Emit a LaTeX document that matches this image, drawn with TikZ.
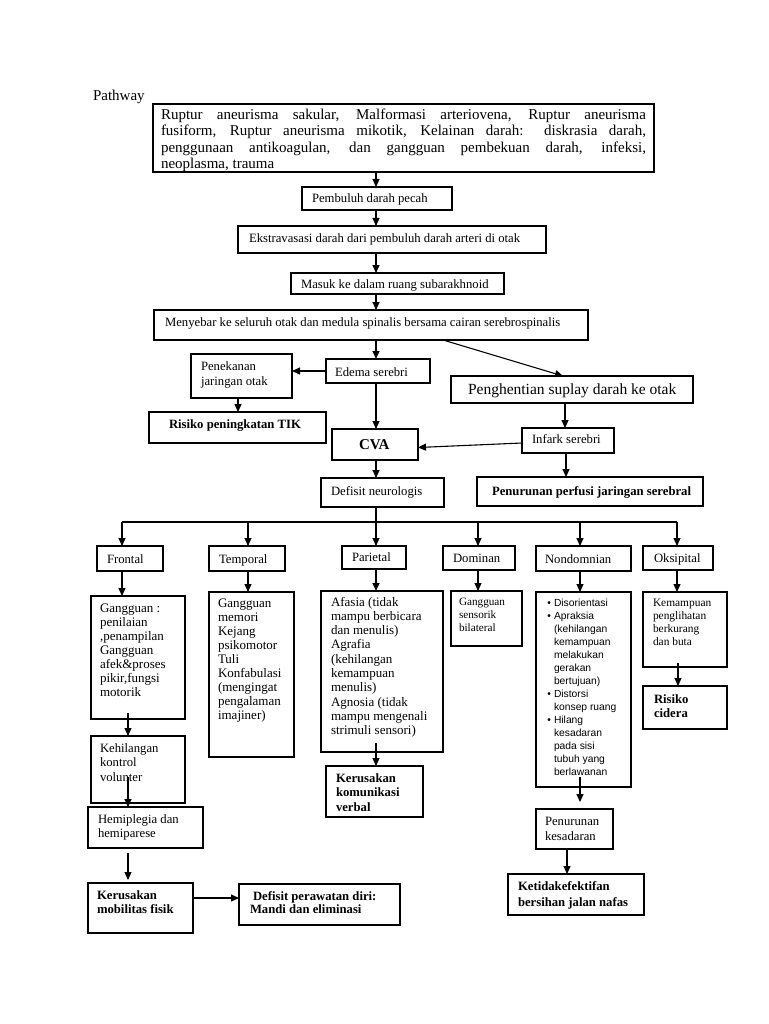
\documentclass[tikz,border=0pt]{standalone}
\usepackage{fontspec}
\setmainfont{Liberation Serif}
\setsansfont{Liberation Sans}
\usetikzlibrary{arrows.meta}
\newcommand\bx[5]{\node[boxst, minimum width={(#4-#2)*1pt}, minimum height={(#5-#3)*1pt}, anchor=north west] (#1) at (#2,#3) {};}
\newcommand\tx[7]{\node[anchor=north west, inner sep=0pt, outer sep=0pt, align=left, font={\fontsize{#4pt}{#5pt}\selectfont#6}] (#1) at (#2,{#3-0.75*#4}) {\rule{0pt}{.75em}#7};}
\newcommand\bul{\llap{\textbullet\hspace{3pt}}}
\begin{document}
\begin{tikzpicture}[x=1pt,y=-1pt,
  boxst/.style={draw=black, line width=1.1pt, inner sep=0pt, outer sep=0pt},
  arr/.style={line width=1.1pt, -{Triangle[length=8pt,width=7pt]}},
  ln/.style={line width=1.1pt}]
\fill[white] (0,0) rectangle (768,1024);
\useasboundingbox (0,0) rectangle (768,1024);
% column coordinates
\coordinate (cx) at (376,0);
\coordinate (c122) at (122,0);
\coordinate (c128) at (128,0);
\coordinate (c238) at (238,0);
\coordinate (c248) at (248,0);
\coordinate (c443) at (443,0);
\coordinate (c563) at (563,0);
\coordinate (c565) at (565,0);
\coordinate (c566) at (566,0);
\coordinate (c567) at (567,0);
\coordinate (c478) at (478,0);
\coordinate (c580) at (580,0);
\coordinate (c677) at (677,0);
\coordinate (c678) at (678,0);
\coordinate (r898) at (0,898);
\coordinate (busL) at (122,522);
\coordinate (busR) at (677,522);

% boxes
\bx{top}{153}{104}{654}{172}
\bx{pemb}{302}{187}{452}{210}
\bx{ekstr}{238}{226}{546}{253}
\bx{masuk}{291}{273}{504}{294}
\bx{menyebar}{154}{310}{588}{340}
\bx{edema}{326}{359}{430}{383}
\bx{pen}{191}{354}{292}{398}
\bx{risk}{149}{412}{326}{443}
\bx{henti}{451}{376}{693}{403}
\bx{cva}{332}{429}{418}{460}
\bx{infark}{522}{428}{614}{453}
\bx{defisit}{321}{478}{444}{507}
\bx{perfusi}{477}{477}{703}{506}
\bx{frontal}{97}{546}{163}{571}
\bx{temporal}{209}{546}{285}{571}
\bx{parietal}{342}{546}{406}{569}
\bx{dominan}{443}{546}{515}{570}
\bx{nondom}{536}{546}{631}{571}
\bx{oksip}{643}{546}{713}{570}
\bx{fd}{91}{596}{185}{719}
\bx{td}{209}{592}{294}{757}
\bx{pd}{321}{591}{443}{752}
\bx{dd}{451}{591}{522}{646}
\bx{nd}{536}{592}{631}{787}
\bx{od}{643}{592}{727}{667}
\bx{cidera}{643}{686}{727}{729}
\bx{kehil}{91}{736}{185}{803}
\bx{hemi}{88}{807}{203}{848}
\bx{mob}{88}{883}{193}{933}
\bx{rawat}{239}{884}{400}{925}
\bx{kom}{326}{766}{423}{817}
\bx{sadar}{536}{809}{613}{849}
\bx{nafas}{508}{874}{644}{915}

% texts
\tx{tPath}{93}{101}{15}{18}{}{Pathway}
\tx{tTop}{161}{119.5}{15}{16.4}{}{\makebox[485pt][s]{Ruptur aneurisma sakular, Malformasi arteriovena, Ruptur aneurisma}\\\makebox[485pt][s]{fusiform, Ruptur aneurisma mikotik, Kelainan darah: diskrasia darah,}\\\makebox[485pt][s]{penggunaan antikoagulan, dan gangguan pembekuan darah, infeksi,}\\neoplasma, trauma}
\tx{tPemb}{312}{203}{12.7}{15}{}{Pembuluh darah pecah}
\tx{tEkstr}{249}{242}{12.7}{15}{}{Ekstravasasi darah dari pembuluh darah arteri di otak}
\tx{tMasuk}{301}{288}{12.7}{15}{}{Masuk ke dalam ruang subarakhnoid}
\tx{tMenyebar}{165}{326}{12.7}{15}{}{Menyebar ke seluruh otak dan medula spinalis bersama cairan serebrospinalis}
\tx{tEdema}{335}{376}{12.7}{15}{}{Edema serebri}
\tx{tPen}{201}{370}{12.7}{15}{}{Penekanan\\jaringan otak}
\tx{tRisk}{169}{428}{12.7}{15}{\bfseries}{Risiko peningkatan TIK}
\tx{tHenti}{468}{394.5}{15.5}{18}{}{Penghentian suplay darah ke otak}
\tx{tCva}{359}{449}{15}{18}{\bfseries}{CVA}
\tx{tInfark}{532}{443}{12.7}{15}{}{Infark serebri}
\tx{tDefisit}{331}{495}{12.7}{15}{}{Defisit neurologis}
\tx{tPerfusi}{492}{495}{12.7}{15}{\bfseries}{Penurunan perfusi jaringan serebral}
\tx{tFrontal}{107}{563}{12.7}{15}{}{Frontal}
\tx{tTemporal}{219}{563}{12.7}{15}{}{Temporal}
\tx{tParietal}{352}{561}{12.7}{15}{}{Parietal}
\tx{tDominan}{453}{562}{12.7}{15}{}{Dominan}
\tx{tNondom}{545}{563}{12.7}{15}{}{Nondomnian}
\tx{tOksip}{654}{562}{12.7}{15}{}{Oksipital}
\tx{tFd}{100}{612}{13}{14}{}{Gangguan :\\penilaian\\,penampilan\\Gangguan\\afek\&proses\\pikir,fungsi\\motorik}
\tx{tTd}{218}{607}{13}{14.1}{}{Gangguan\\memori\\Kejang\\psikomotor\\Tuli\\Konfabulasi\\(mengingat\\pengalaman\\imajiner)}
\tx{tPd}{331}{606}{13}{14.3}{}{Afasia (tidak\\mampu berbicara\\dan menulis)\\Agrafia\\(kehilangan\\kemampuan\\menulis)\\Agnosia (tidak\\mampu mengenali\\strimuli sensori)}
\tx{tDd}{459}{605}{11.2}{13}{}{Gangguan\\sensorik\\bilateral}
\tx{tNd}{554}{606}{10.3}{13}{\sffamily}{\bul Disorientasi\\\bul Apraksia\\(kehilangan\\kemampuan\\melakukan\\gerakan\\bertujuan)\\\bul Distorsi\\konsep ruang\\\bul Hilang\\kesadaran\\pada sisi\\tubuh yang\\berlawanan}
\tx{tOd}{653}{606}{11.4}{13}{}{Kemampuan\\penglihatan\\berkurang\\dan buta}
\tx{tCidera}{654}{703}{12.7}{14}{\bfseries}{Risiko\\cidera}
\tx{tKehil}{100}{752}{12.7}{14.5}{}{Kehilangan\\kontrol\\volunter}
\tx{tHemi}{98}{823}{12.7}{14}{}{Hemiplegia dan\\hemiparese}
\tx{tMob}{97}{899}{12.7}{14}{\bfseries}{Kerusakan\\mobilitas fisik}
\tx{tRawat}{250}{900}{12.7}{13}{\bfseries}{\hspace{3pt}Defisit perawatan diri:\\Mandi dan eliminasi}
\tx{tKom}{336}{782}{12.7}{14.5}{\bfseries}{Kerusakan\\komunikasi\\verbal}
\tx{tSadar}{545}{825}{12.7}{15}{}{Penurunan\\kesadaran}
\tx{tNafas}{518}{890}{12.7}{16}{\bfseries}{Ketidakefektifan\\bersihan jalan nafas}

% connectors main chain
\draw[arr] (top.south -| cx) -- (pemb.north -| cx);
\draw[arr] (pemb.south -| cx) -- (ekstr.north -| cx);
\draw[arr] (ekstr.south -| cx) -- (masuk.north -| cx);
\draw[arr] (masuk.south -| cx) -- (menyebar.north -| cx);
\draw[arr] (menyebar.south -| cx) -- (edema.north -| cx);
\draw[arr] (menyebar.south -| c443) -- (henti.north -| c563);
\draw[arr] (edema.west) -- (edema.west -| pen.east);
\draw[arr] (pen.south -| c238) -- (risk.north -| c238);
\draw[arr] (edema.south -| cx) -- (cva.north -| cx);
\draw[arr] (henti.south -| c565) -- (infark.north -| c565);
\draw[arr] ([yshift=-2.5pt]infark.west) -- ([yshift=-3pt]cva.east);
\draw[arr] (cva.south -| cx) -- (defisit.north -| cx);
\draw[arr] (infark.south -| c566) -- (perfusi.north -| c566);
% bus
\draw[ln] (busL) -- (busR);
\draw[arr] (defisit.south -| cx) -- (parietal.north -| cx);
\draw[arr] (busL) -- (frontal.north -| c122);
\draw[arr] (c248 |- busL) -- (temporal.north -| c248);
\draw[arr] (c478 |- busL) -- (dominan.north -| c478);
\draw[arr] (c580 |- busL) -- (nondom.north -| c580);
\draw[arr] (busR) -- (oksip.north -| c677);
% lobes to details
\draw[arr] (frontal.south -| c122) -- (fd.north -| c122);
\draw[arr] (temporal.south -| c248) -- (td.north -| c248);
\draw[arr] (parietal.south -| cx) -- (pd.north -| cx);
\draw[arr] (dominan.south -| c478) -- (dd.north -| c478);
\draw[arr] (nondom.south -| c580) -- (nd.north -| c580);
\draw[arr] (oksip.south -| c677) -- (od.north -| c677);
% lower chains
\draw[arr] ([yshift=6pt]fd.south -| c128) -- (kehil.north -| c128);
\draw[arr] ([yshift=26pt]kehil.south -| c128) -- (hemi.north -| c128);
\draw[arr] ([yshift=-5pt]hemi.south -| c128) -- ([yshift=3pt]mob.north -| c128);
\draw[arr] (mob.east |- r898) -- (rawat.west |- r898);
\draw[arr] ([yshift=9pt]pd.south -| cx) -- (kom.north -| cx);
\draw[arr] ([yshift=10pt]nd.south -| c580) -- ([yshift=7pt]sadar.north -| c580);
\draw[arr] (sadar.south -| c567) -- (nafas.north -| c567);
\draw[arr] ([yshift=4pt]od.south -| c678) -- (cidera.north -| c678);
\end{tikzpicture}
\end{document}
